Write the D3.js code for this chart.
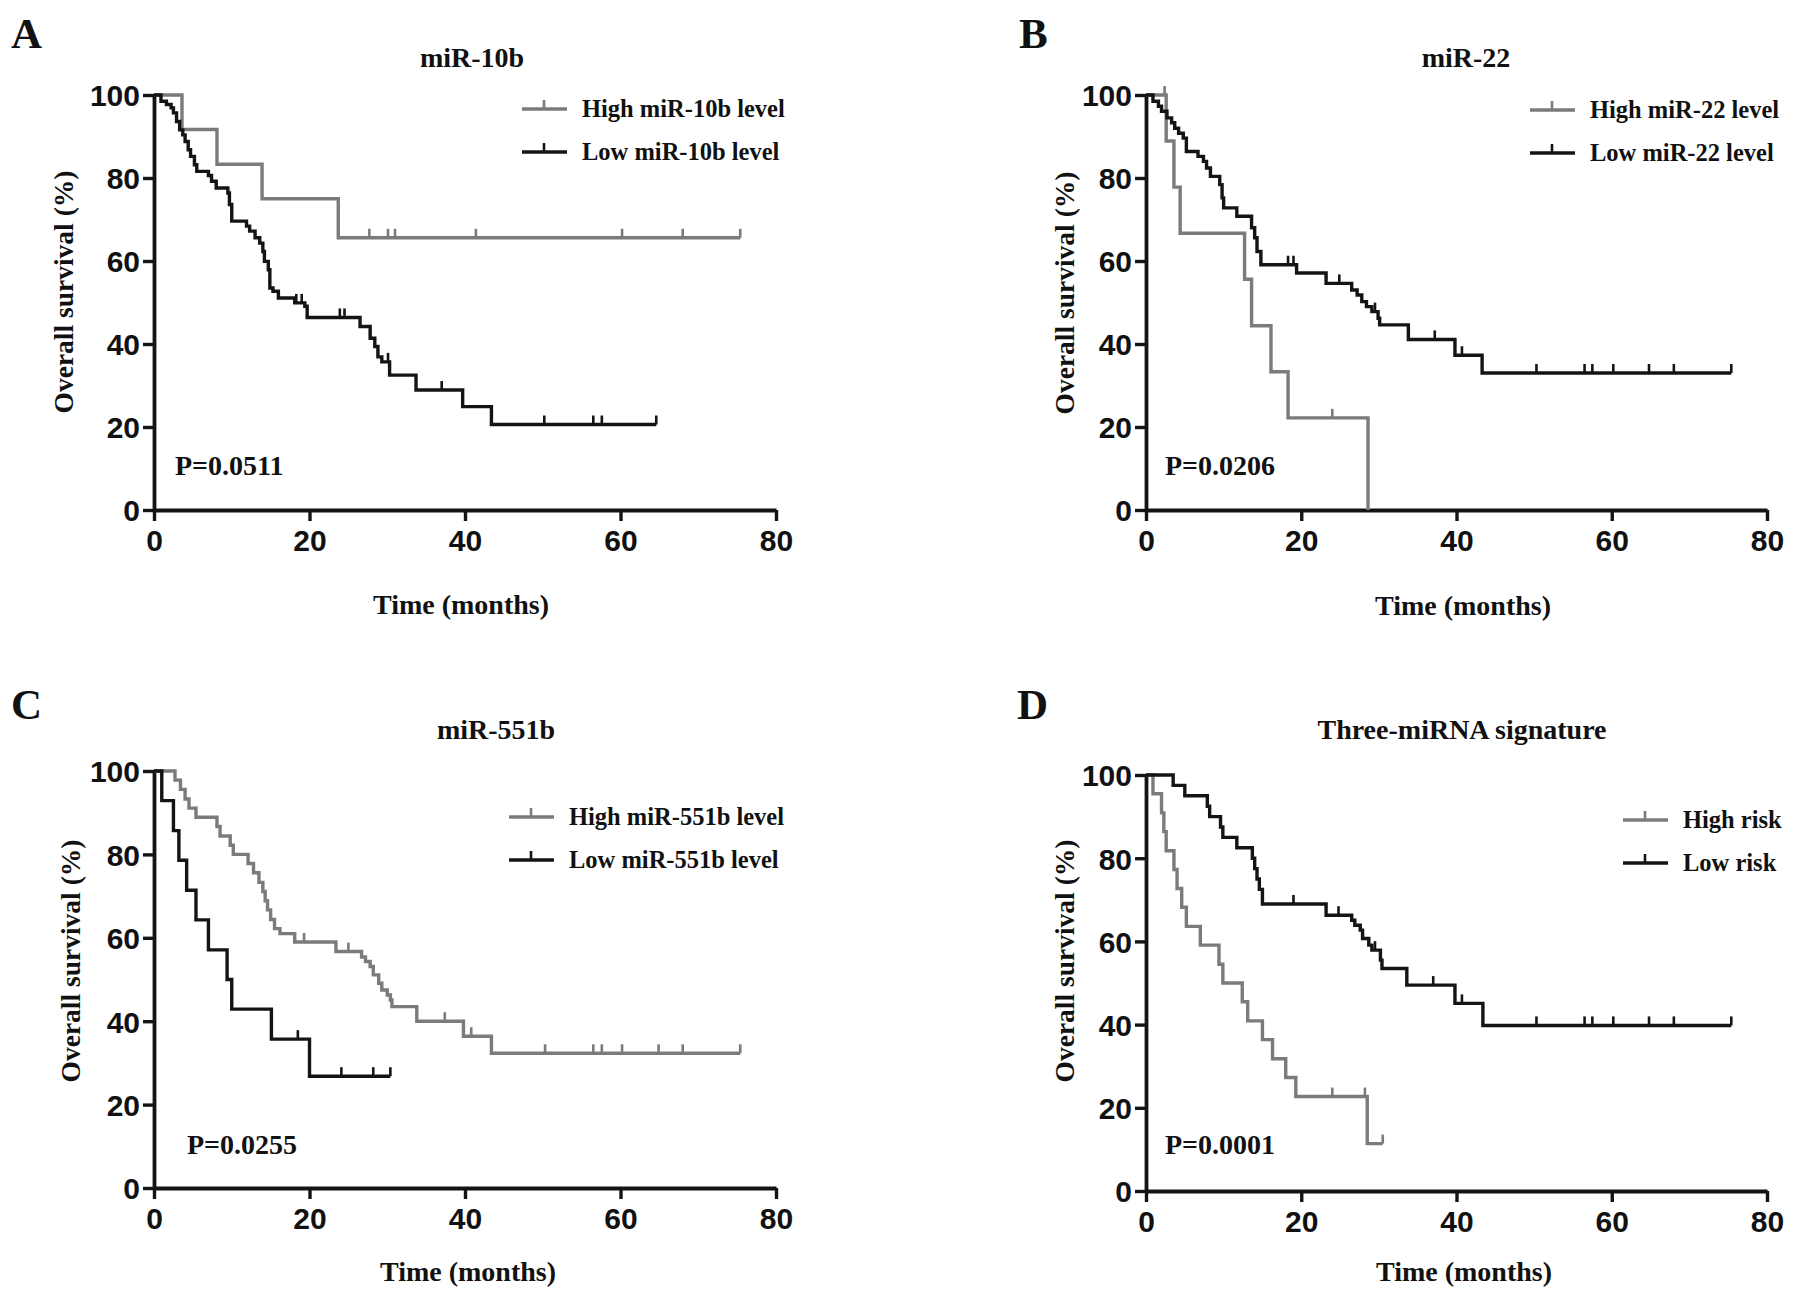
<!DOCTYPE html>
<html>
<head>
<meta charset="utf-8">
<title>Kaplan-Meier curves</title>
<script src="https://d3js.org/d3.v7.min.js"></script>
<style>
  body { margin: 0; background: white; }
  .tick text { font-family: "Liberation Sans", Arial, sans-serif; font-weight: bold; font-size: 30px; fill: #111; }
  .lab { font-family: "Liberation Serif", "Times New Roman", serif; font-weight: bold; fill: #111; }
</style>
</head>
<body>
<svg id="fig" width="1795" height="1296"></svg>
<script>
// ---- data (months, % surviving after each event) ----
const xTicks = [0, 20, 40, 60, 80]
const yTicks = [0, 20, 40, 60, 80, 100]

// A: miR-10b
const aHighTimes = [3.6, 8.1, 13.9, 23.7]
const aHighSurv = [91.7, 83.3, 75.0, 65.6]
const aHighCens = [27.7, 30.1, 31.0, 41.4, 60.2, 68.0, 75.4]
const aLowTimes = [0.9, 1.6, 2.2, 2.5, 2.9, 3.3, 3.7, 4.0, 4.4, 4.7, 5.2, 5.5, 7.0, 7.4, 8.0, 9.5, 9.7, 10.0,
  11.9, 12.3, 13.0, 13.6, 14.0, 14.2, 14.7, 14.9, 15.3, 16.0, 18.1, 19.4, 19.7,
  26.5, 27.8, 28.4, 28.8, 29.3, 30.3, 33.7, 39.7, 43.4]
const aLowSurv = [98.5, 97.7, 96.9, 95.7, 93.6, 91.6, 90.4, 88.8, 86.8, 85.2, 83.2, 81.6, 80.6, 79.2, 77.6, 76.4, 73.6, 69.6,
  68.4, 67.2, 65.6, 64.3, 62.3, 59.9, 57.9, 53.5, 52.7, 51.1, 49.9, 49.1, 46.4,
  44.2, 41.4, 39.4, 36.9, 35.7, 32.5, 28.9, 24.9, 20.6]
const aLowCens = [18.3, 19.0, 23.9, 24.5, 30.1, 37.0, 50.2, 56.5, 57.6, 64.6]

// B: miR-22
const bHighTimes = [2.6, 3.6, 4.4, 12.7, 13.6, 16.1, 18.3, 28.6]
const bHighSurv = [88.9, 77.8, 66.7, 55.6, 44.4, 33.3, 22.2, 0]
const bHighCens = [2.4, 24.0]
const bLowTimes = [0.9, 1.6, 2.0, 2.7, 3.3, 3.7, 4.2, 4.8, 5.2, 6.7, 7.4, 7.8, 8.3, 9.5, 9.8, 10.0, 11.7,
  13.6, 14.0, 14.3, 14.8, 19.4, 23.2, 26.5, 27.2, 27.8, 28.4, 29.1, 29.9, 30.1, 33.8, 39.8, 43.3]
const bLowSurv = [98.5, 97.3, 96.1, 94.5, 93.3, 92.0, 90.8, 89.6, 86.4, 85.2, 84.0, 82.4, 80.4, 78.4, 75.2, 72.8, 70.8,
  68.0, 65.6, 62.3, 59.1, 57.1, 54.6, 53.0, 51.8, 50.2, 49.0, 47.8, 46.2, 44.6, 41.1, 37.3, 33.0]
const bLowCens = [18.3, 19.0, 24.9, 29.5, 37.2, 40.7, 50.3, 56.5, 57.5, 60.2, 64.8, 68.0, 75.4]

// C: miR-551b
const cHighTimes = [2.7, 3.4, 4.0, 4.5, 5.4, 8.1, 8.5, 9.8, 10.2, 12.1, 12.8, 13.5, 14.0, 14.3, 14.6, 15.0, 15.5, 16.2, 18.1,
  23.4, 26.7, 27.2, 27.8, 28.2, 28.9, 29.3, 30.0, 30.4, 30.6, 33.8, 39.8, 43.4]
const cHighSurv = [97.8, 95.6, 93.3, 91.1, 88.9, 86.7, 84.4, 82.2, 80.0, 77.8, 75.6, 73.3, 71.1, 68.9, 66.7, 64.4, 62.2, 61.0, 59.0,
  56.7, 55.4, 54.3, 53.1, 51.1, 49.1, 47.5, 46.3, 45.1, 43.5, 40.0, 36.4, 32.3]
const cHighCens = [19.3, 25.0, 37.4, 40.8, 50.3, 56.5, 57.6, 60.2, 64.9, 68.0, 75.4]
const cLowTimes = [1.0, 2.5, 3.2, 4.2, 5.4, 7.0, 9.4, 10.0, 15.1, 20.0]
const cLowSurv = [92.9, 85.7, 78.6, 71.4, 64.3, 57.1, 50.0, 42.9, 35.7, 26.8]
const cLowCens = [18.5, 24.1, 28.2, 30.4]

// D: three-miRNA signature
const dHighTimes = [0.9, 2.0, 2.3, 2.6, 3.6, 4.0, 4.6, 5.2, 7.0, 9.4, 9.9, 12.4, 13.1, 15.0, 16.3, 18.0, 19.3, 28.5]
const dHighSurv = [95.5, 90.9, 86.4, 81.8, 77.3, 72.7, 68.2, 63.6, 59.1, 54.5, 50.0, 45.5, 40.9, 36.4, 31.8, 27.3, 22.7, 11.4]
const dHighCens = [24.0, 28.2, 30.5]
const dLowTimes = [3.5, 5.0, 7.9, 8.2, 9.6, 9.9, 11.7, 13.7, 14.0, 14.3, 14.6, 15.0,
  23.2, 26.5, 26.9, 27.6, 27.9, 28.7, 29.1, 30.2, 30.4, 33.6, 39.8, 43.4]
const dLowSurv = [97.5, 95.0, 92.5, 90.0, 87.5, 85.0, 82.5, 80.0, 77.5, 75.0, 72.5, 69.0,
  66.3, 65.1, 63.9, 62.7, 60.7, 59.1, 57.9, 55.5, 53.5, 49.5, 45.1, 39.8]
const dLowCens = [19.0, 24.8, 29.5, 37.0, 40.7, 50.3, 56.5, 57.5, 60.2, 64.8, 68.0, 75.4]

const grey = "#7b7b7b", black = "#141414"

// layout of the four panels (pixels)
const panels = [
  {letter: "A", lx: 11, ly: 48, title: "miR-10b", tx: 472, ty: 67, x0: 154, x1: 776, y0: 510, y1: 95,
   ylx: 63, yly: 292, xlx: 461, xly: 614, p: "P=0.0511", px: 175, py: 475, legx: 522, legy: 109,
   names: ["High miR-10b level", "Low miR-10b level"],
   high: [aHighTimes, aHighSurv, aHighCens], low: [aLowTimes, aLowSurv, aLowCens]},
  {letter: "B", lx: 1019, ly: 48, title: "miR-22", tx: 1466, ty: 67, x0: 1146, x1: 1767, y0: 510, y1: 95,
   ylx: 1064, yly: 293, xlx: 1463, xly: 615, p: "P=0.0206", px: 1165, py: 475, legx: 1530, legy: 110,
   names: ["High miR-22 level", "Low miR-22 level"],
   high: [bHighTimes, bHighSurv, bHighCens], low: [bLowTimes, bLowSurv, bLowCens]},
  {letter: "C", lx: 11, ly: 719, title: "miR-551b", tx: 496, ty: 739, x0: 154, x1: 776, y0: 1188, y1: 771,
   ylx: 70, yly: 961, xlx: 468, xly: 1281, p: "P=0.0255", px: 187, py: 1154, legx: 509, legy: 817,
   names: ["High miR-551b level", "Low miR-551b level"],
   high: [cHighTimes, cHighSurv, cHighCens], low: [cLowTimes, cLowSurv, cLowCens]},
  {letter: "D", lx: 1017, ly: 719, title: "Three-miRNA signature", tx: 1462, ty: 739, x0: 1146, x1: 1767, y0: 1191, y1: 775,
   ylx: 1064, yly: 961, xlx: 1464, xly: 1281, p: "P=0.0001", px: 1165, py: 1154, legx: 1623, legy: 820,
   names: ["High risk", "Low risk"],
   high: [dHighTimes, dHighSurv, dHighCens], low: [dLowTimes, dLowSurv, dLowCens]}
]

const svg = d3.select("#fig")
svg.append("rect").attr("width", 1795).attr("height", 1296).attr("fill", "white")

function survAt(times, surv, t) {
  let s = 100
  times.forEach((e, i) => { if (e <= t) s = surv[i] })
  return s
}

function drawCurve(g, x, y, series, color) {
  const [times, surv, cens] = series
  const end = Math.max(d3.max(times), d3.max(cens))
  const pts = [[0, 100]].concat(times.map((t, i) => [t, surv[i]]))
  pts.push([end, surv[surv.length - 1]])
  const line = d3.line().x(d => x(d[0])).y(d => y(d[1])).curve(d3.curveStepAfter)
  g.append("path").attr("d", line(pts)).attr("fill", "none")
    .attr("stroke", color).attr("stroke-width", 3.4)
  g.selectAll(null).data(cens).join("line")
    .attr("x1", d => x(d)).attr("x2", d => x(d))
    .attr("y1", d => y(survAt(times, surv, d)))
    .attr("y2", d => y(survAt(times, surv, d)) - 9)
    .attr("stroke", color).attr("stroke-width", 2.6)
}

function drawPanel(p) {
  const g = svg.append("g")
  const x = d3.scaleLinear([0, 80], [p.x0, p.x1])
  const y = d3.scaleLinear([0, 100], [p.y0, p.y1])

  const ax = g.append("g").attr("transform", "translate(0," + p.y0 + ")")
    .call(d3.axisBottom(x).tickValues(xTicks).tickSize(11).tickSizeOuter(0).tickPadding(9))
  const ay = g.append("g").attr("transform", "translate(" + p.x0 + ",0)")
    .call(d3.axisLeft(y).tickValues(yTicks).tickSize(11).tickSizeOuter(0).tickPadding(3))
  ;[ax, ay].forEach(a => {
    a.select(".domain").attr("stroke", black).attr("stroke-width", 3.8)
    a.selectAll(".tick line").attr("stroke", black).attr("stroke-width", 3.4)
  })
  ay.selectAll(".tick text").attr("dy", "0.36em")

  drawCurve(g, x, y, p.high, grey)
  drawCurve(g, x, y, p.low, black)

  g.append("text").attr("class", "lab").attr("x", p.lx).attr("y", p.ly)
    .style("font-size", "43px").text(p.letter)
  g.append("text").attr("class", "lab").attr("x", p.tx).attr("y", p.ty)
    .attr("text-anchor", "middle").style("font-size", "28px").text(p.title)
  g.append("text").attr("class", "lab")
    .attr("transform", "translate(" + p.ylx + "," + p.yly + ") rotate(-90)")
    .attr("text-anchor", "middle").attr("dy", "0.35em").style("font-size", "27.5px")
    .text("Overall survival (%)")
  g.append("text").attr("class", "lab").attr("x", p.xlx).attr("y", p.xly)
    .attr("text-anchor", "middle").style("font-size", "28px").text("Time (months)")
  g.append("text").attr("class", "lab").attr("x", p.px).attr("y", p.py)
    .style("font-size", "28px").text(p.p)

  // legend
  const leg = g.selectAll(null).data([grey, black]).join("g")
    .attr("transform", (d, i) => "translate(" + p.legx + "," + (p.legy + i * 43) + ")")
  leg.append("line").attr("x1", 0).attr("x2", 45).attr("y1", 0).attr("y2", 0)
    .attr("stroke", d => d).attr("stroke-width", 3.4)
  leg.append("line").attr("x1", 22).attr("x2", 22).attr("y1", 0).attr("y2", -9)
    .attr("stroke", d => d).attr("stroke-width", 2.6)
  leg.append("text").attr("class", "lab").attr("x", 60).attr("y", 0).attr("dy", "0.33em")
    .style("font-size", "24.5px").text((d, i) => p.names[i])
}

panels.forEach(drawPanel)
</script>
</body>
</html>
